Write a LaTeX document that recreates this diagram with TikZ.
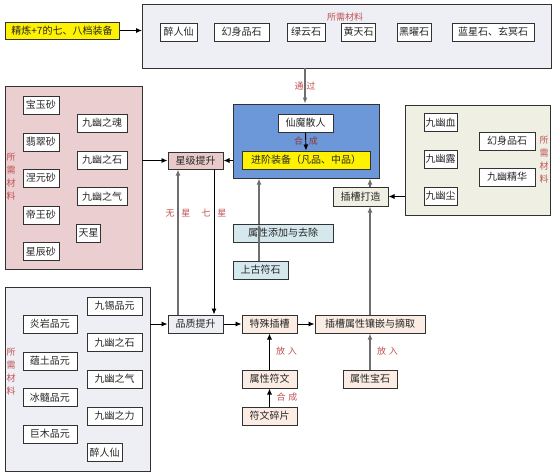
\documentclass[tikz,border=0pt]{standalone}
\usepackage{fontspec}
\setmainfont{Noto Sans CJK SC}
\usetikzlibrary{arrows.meta}
\definecolor{topfill}{RGB}{238,239,245}
\definecolor{pinkfill}{RGB}{234,206,208}
\definecolor{starfill}{RGB}{232,202,202}
\definecolor{bluefill}{RGB}{108,152,218}
\definecolor{beigefill}{RGB}{239,239,227}
\definecolor{lbluefill}{RGB}{212,232,238}
\definecolor{peachfill}{RGB}{251,236,228}
\definecolor{lblred}{RGB}{192,80,80}
\definecolor{linegray}{RGB}{110,110,110}
\definecolor{edge}{RGB}{50,50,50}
\tikzset{
  mbox/.style={draw=edge, line width=1pt, fill=white, inner sep=0pt, minimum height=18pt,
    font=\fontsize{10}{10}\selectfont, text=black!85},
  frame/.style={draw=edge, line width=1pt},
  lbl/.style={text=lblred, font=\fontsize{9}{9}\selectfont, inner sep=0pt},
  vlbl/.style={text=lblred, font=\fontsize{9}{13}\selectfont, align=center, inner sep=0pt},
  arr/.style={-{Latex[length=6pt,width=5pt]}, line width=0.9pt, draw=black},
  garr/.style={-{Latex[length=6pt,width=5pt]}, line width=1.8pt, draw=linegray},
}
\begin{document}
\begin{tikzpicture}[x=1pt,y=-1pt]
\useasboundingbox (0,0) rectangle (555,472);

% ---------- top ----------
\node[mbox, fill=yellow, minimum width=114pt, minimum height=17pt] (equip) at (62,30.5) {精炼+7的七、八档装备};
\draw[frame, fill=topfill] (142,4) rectangle (551,68);
\coordinate (topW) at (142,30.5);
\coordinate (topS) at (305,68);
\node[mbox, minimum width=37pt] (t1) at (178.5,32) {醉人仙};
\node[mbox, minimum width=55pt] (t2) at (241.5,32) {幻身品石};
\node[mbox, minimum width=38pt] (t3) at (306,32) {绿云石};
\node[mbox, minimum width=34pt] (t4) at (358.5,32) {黄天石};
\node[mbox, minimum width=34pt] (t5) at (414,32) {黑曜石};
\node[mbox, minimum width=82pt] (t6) at (493,32) {蓝星石、玄冥石};
\node[lbl] (tl) at (345,17) {所需材料};

% ---------- blue box ----------
\node[draw=edge, line width=1pt, fill=bluefill, minimum width=146pt, minimum height=74pt, inner sep=0pt] (blue) at (306,141) {};
\node[mbox, minimum width=55pt] (xm) at (305.5,123) {仙魔散人};
\node[mbox, fill=yellow, minimum width=128pt] (jj) at (306,160) {进阶装备（凡品、中品）};
\node[lbl, text=lblred!70!black] (hc1) at (306,141) {合\hspace{6pt}成};

% ---------- left pink box ----------
\draw[frame, fill=pinkfill] (5,86) rectangle (142,269);
\coordinate (pinkE) at (142,160.5);
\node[mbox, minimum width=36pt] (p1) at (41,105) {宝玉砂};
\node[mbox, minimum width=36pt] (p2) at (41,142) {翡翠砂};
\node[mbox, minimum width=36pt] (p3) at (41,178) {涅元砂};
\node[mbox, minimum width=36pt] (p4) at (41,215) {帝王砂};
\node[mbox, minimum width=36pt] (p5) at (41,251.5) {星辰砂};
\node[mbox, minimum width=50pt] (p6) at (102,123) {九幽之魂};
\node[mbox, minimum width=50pt] (p7) at (102,160) {九幽之石};
\node[mbox, minimum width=50pt] (p8) at (102,196.5) {九幽之气};
\node[mbox, minimum width=24pt] (p9) at (88.5,233) {天星};
\node[vlbl] (pl) at (11,177) {所\\需\\材\\料};

\node[mbox, fill=starfill, minimum width=55pt, minimum height=17pt] (star) at (195.5,160.5) {星级提升};

% ---------- right beige box ----------
\draw[frame, fill=beigefill] (405,105) rectangle (550,215);
\coordinate (rW) at (405,196.5);
\node[mbox, minimum width=33pt] (r1) at (440.5,122.5) {九幽血};
\node[mbox, minimum width=33pt] (r2) at (440.5,159) {九幽露};
\node[mbox, minimum width=33pt] (r3) at (440.5,196) {九幽尘};
\node[mbox, minimum width=56pt] (r4) at (507,141) {幻身品石};
\node[mbox, minimum width=56pt] (r5) at (507,177) {九幽精华};
\node[vlbl] (rl) at (544,160) {所\\需\\材\\料};

\node[mbox, fill=beigefill, minimum width=55pt, minimum height=19pt] (make) at (360.5,196.5) {插槽打造};

% ---------- middle column ----------
\node[mbox, fill=lbluefill, minimum width=100pt] (attr) at (283,233) {属性添加与去除};
\node[mbox, fill=lbluefill, minimum width=55pt] (rune0) at (260.5,270) {上古符石};

% ---------- lower row ----------
\node[mbox, fill=topfill, minimum width=55pt] (qual) at (195.5,324) {品质提升};
\node[mbox, fill=peachfill, minimum width=55pt] (spec) at (269.5,324) {特殊插槽};
\node[mbox, fill=peachfill, minimum width=110pt] (slot) at (370,324) {插槽属性镶嵌与摘取};
\node[mbox, fill=peachfill, minimum width=55pt] (fw) at (269.5,379) {属性符文};
\node[mbox, fill=peachfill, minimum width=55pt] (fs) at (269.5,416) {符文碎片};
\node[mbox, fill=peachfill, minimum width=54pt] (gem) at (370,379) {属性宝石};
\node[lbl] (fr1) at (286.5,351) {放\hspace{3pt}入};
\node[lbl] (fr2) at (387.5,351) {放\hspace{3pt}入};
\node[lbl] (hc2) at (287,397) {合\hspace{3pt}成};

% ---------- lower left box ----------
\draw[frame, fill=topfill] (5,287) rectangle (150,471);
\coordinate (llE) at (150,324);
\node[mbox, minimum width=55pt] (l1) at (114.5,306) {九锡品元};
\node[mbox, minimum width=54pt] (l2) at (50,324) {炎岩品元};
\node[mbox, minimum width=55pt] (l3) at (114.5,342.5) {九幽之石};
\node[mbox, minimum width=54pt] (l4) at (50,361) {蕴土品元};
\node[mbox, minimum width=55pt] (l5) at (114.5,379) {九幽之气};
\node[mbox, minimum width=54pt] (l6) at (50,397.5) {冰髓品元};
\node[mbox, minimum width=55pt] (l7) at (114.5,416) {九幽之力};
\node[mbox, minimum width=54pt] (l8) at (50,434) {巨木品元};
\node[mbox, minimum width=35pt] (l9) at (104.5,452.5) {醉人仙};
\node[vlbl] (ll) at (11,372) {所\\需\\材\\料};

% ---------- connectors ----------
\draw[arr] (equip.east) -- (topW);
\draw[garr] (topS) -- (topS |- blue.north);
\node[lbl] (tg) at (305,86) {通\hspace{3pt}过};
\draw[arr] (xm.south) -- (jj.north);
\draw[arr] (blue.west |- star.east) -- (star.east);
\draw[arr] (pinkE) -- (star.west);

\coordinate (wx) at (178,315);
\coordinate (qx) at (214,169);
\draw[garr] (wx) -- (wx |- star.south);
\draw[arr] (qx) -- (qx |- qual.north);
\node[lbl] (wx1) at (178,213) {无\hspace{7pt}星};
\node[lbl] (qx1) at (214,213) {七\hspace{7pt}星};

\draw[arr] (llE) -- (qual.west);
\draw[arr] (qual.east) -- (spec.west);
\draw[arr] (spec.east) -- (slot.west);
\draw[arr] (fw.north) -- (spec.south);
\draw[arr] (fs.north) -- (fw.south);
\draw[garr] (gem.north) -- (slot.south);
\draw[garr] (slot.north) -- (slot.north |- make.south);
\draw[garr] (make.north -| slot.north) -- (slot.north |- blue.south);
\draw[arr] (rW) -- (make.east);

\coordinate (ax) at (259,224);
\draw[garr] (rune0.north -| ax) -- (ax);
\draw[garr] (ax) -- (ax |- blue.south);
\end{tikzpicture}
\end{document}
